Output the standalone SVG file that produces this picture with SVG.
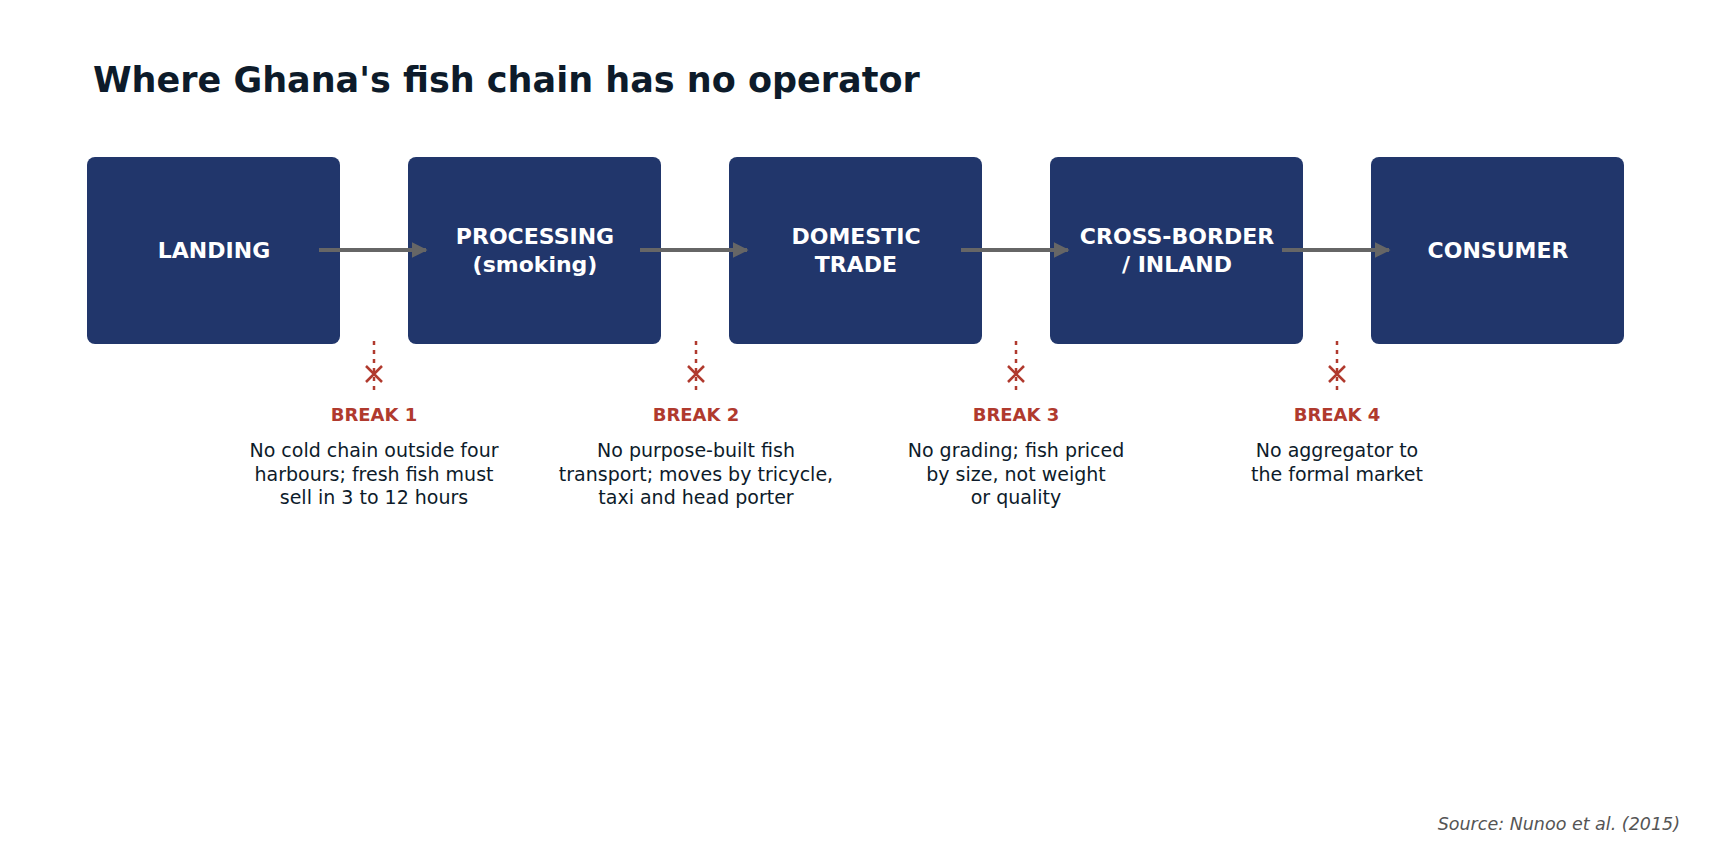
<svg xmlns="http://www.w3.org/2000/svg" width="1711" height="847" viewBox="0 0 1711 847">
<defs>
<marker id="ah" viewBox="0 0 10 10" refX="9" refY="5" markerWidth="4" markerHeight="4" orient="auto"><path d="M0,0 L10,5 L0,10 z" fill="#666"/></marker>
<style>
text{font-family:"DejaVu Sans",sans-serif}
.box{fill:#21366b}
.bt{fill:#fff;font-size:22px;font-weight:bold;text-anchor:middle}
.arr{stroke:#666;stroke-width:4;fill:none}
.dot{stroke:#b03a2e;stroke-width:2.5;stroke-dasharray:4 5}
.x{stroke:#b03a2e;stroke-width:2.5}
.bl{fill:#b03a2e;font-size:18px;font-weight:bold;text-anchor:middle}
.bd{fill:#0d1b2a;font-size:19px;text-anchor:middle}
</style>
</defs>
<rect width="1711" height="847" fill="#fff"/>
<text x="93" y="92" font-size="35" font-weight="bold" fill="#0d1b2a">Where Ghana's fish chain has no operator</text>
<g id="landing"><rect class="box" x="87" y="157" width="253" height="187" rx="8"/><text class="bt" x="214" y="258">LANDING</text></g>
<g id="processing"><rect class="box" x="408" y="157" width="253" height="187" rx="8"/><text class="bt" x="535" y="244">PROCESSING</text><text class="bt" x="535" y="272">(smoking)</text></g>
<g id="domestic"><rect class="box" x="729" y="157" width="253" height="187" rx="8"/><text class="bt" x="856" y="244">DOMESTIC</text><text class="bt" x="856" y="272">TRADE</text></g>
<g id="crossborder"><rect class="box" x="1050" y="157" width="253" height="187" rx="8"/><text class="bt" x="1177" y="244">CROSS-BORDER</text><text class="bt" x="1177" y="272">/ INLAND</text></g>
<g id="consumer"><rect class="box" x="1371" y="157" width="253" height="187" rx="8"/><text class="bt" x="1498" y="258">CONSUMER</text></g>
<g id="connectors">
<line class="arr" x1="319" y1="250" x2="426" y2="250" marker-end="url(#ah)"/>
<line class="arr" x1="640" y1="250" x2="747" y2="250" marker-end="url(#ah)"/>
<line class="arr" x1="961" y1="250" x2="1068" y2="250" marker-end="url(#ah)"/>
<line class="arr" x1="1282" y1="250" x2="1389" y2="250" marker-end="url(#ah)"/>
</g>
<g id="break1"><line class="dot" x1="374" y1="341" x2="374" y2="393"/><path class="x" d="M366,366 L382,382 M382,366 L366,382"/><text class="bl" x="374" y="421">BREAK 1</text><text class="bd" x="374" y="457">No cold chain outside four</text><text class="bd" x="374" y="481">harbours; fresh fish must</text><text class="bd" x="374" y="504">sell in 3 to 12 hours</text></g>
<g id="break2"><line class="dot" x1="696" y1="341" x2="696" y2="393"/><path class="x" d="M688,366 L704,382 M704,366 L688,382"/><text class="bl" x="696" y="421">BREAK 2</text><text class="bd" x="696" y="457">No purpose-built fish</text><text class="bd" x="696" y="481">transport; moves by tricycle,</text><text class="bd" x="696" y="504">taxi and head porter</text></g>
<g id="break3"><line class="dot" x1="1016" y1="341" x2="1016" y2="393"/><path class="x" d="M1008,366 L1024,382 M1024,366 L1008,382"/><text class="bl" x="1016" y="421">BREAK 3</text><text class="bd" x="1016" y="457">No grading; fish priced</text><text class="bd" x="1016" y="481">by size, not weight</text><text class="bd" x="1016" y="504">or quality</text></g>
<g id="break4"><line class="dot" x1="1337" y1="341" x2="1337" y2="393"/><path class="x" d="M1329,366 L1345,382 M1345,366 L1329,382"/><text class="bl" x="1337" y="421">BREAK 4</text><text class="bd" x="1337" y="457">No aggregator to</text><text class="bd" x="1337" y="481">the formal market</text></g>
<text x="1680" y="830" font-size="17.5" font-style="italic" fill="#555" text-anchor="end">Source: Nunoo et al. (2015)</text>
</svg>
